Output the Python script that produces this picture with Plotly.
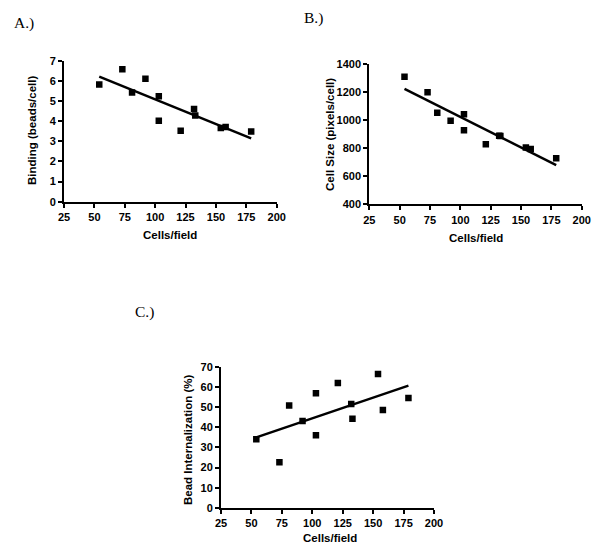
import plotly.graph_objects as go

# Data
cells_per_field = [54, 73, 81, 92, 103, 103, 121, 132, 133, 154, 158, 179]
binding = [5.82, 6.57, 5.42, 6.11, 5.24, 4.02, 3.52, 4.60, 4.28, 3.66, 3.71, 3.49]
cell_size = [1310, 1198, 1053, 996, 1041, 927, 828, 889, 887, 804, 794, 728]
internalization = [34.1, 22.7, 50.8, 43.1, 56.8, 36.1, 61.9, 51.5, 44.2, 66.4, 48.5, 54.5]

fit_x = [54, 179]
fit_binding = [6.21, 3.14]
fit_cell_size = [1222, 680]
fit_internalization = [35.0, 60.6]

x_ticks = [25, 50, 75, 100, 125, 150, 175, 200]

# page body has an 8px margin; size the figure to fill the rest of the window
OFF = 8
W, H = 600 - OFF, 558 - OFF

def px(x):
    return (x - OFF) / W

def py(y):
    return 1 - (y - OFF) / H

fig = go.Figure()

panels = [
    ("x", "y", binding, fit_binding, [0, 7], 1, (64, 276.7), (60.7, 201.7)),
    ("x2", "y2", cell_size, fit_cell_size, [400, 1400], 200, (369.3, 581.7), (64, 204.3)),
    ("x3", "y3", internalization, fit_internalization, [0, 70], 10, (221, 434), (366.7, 508)),
]

tickfont = dict(family="Liberation Sans, Arial", size=11, color="black", weight="bold")

for i, (xa, ya, yv, fit, yr, dt, xd, yd) in enumerate(panels):
    fig.add_trace(go.Scatter(
        x=cells_per_field, y=yv, mode="markers", xaxis=xa, yaxis=ya,
        marker=dict(symbol="square", size=6.5, color="black"), showlegend=False,
    ))
    fig.add_trace(go.Scatter(
        x=fit_x, y=fit, mode="lines", xaxis=xa, yaxis=ya,
        line=dict(color="black", width=2.5), showlegend=False,
    ))
    sfx = "" if i == 0 else str(i + 1)
    axis_common = dict(
        showline=True, linecolor="black", linewidth=2, mirror=False,
        ticks="outside", ticklen=4, tickwidth=2, tickcolor="black",
        showgrid=False, zeroline=False, tickfont=tickfont, automargin=False,
    )
    fig.layout["xaxis" + sfx] = dict(
        axis_common, domain=[px(xd[0]), px(xd[1])], range=[25, 200],
        tickvals=x_ticks, anchor=ya,
    )
    fig.layout["yaxis" + sfx] = dict(
        axis_common, domain=[py(yd[1]), py(yd[0])], range=yr,
        dtick=dt, tick0=yr[0], anchor=xa,
    )

title_font = dict(family="Liberation Sans, Arial", size=11.5, color="black", weight="bold")
label_font = dict(family="Liberation Serif, Times New Roman", size=15.5, color="black")

annotations = [
    dict(text="Cells/field", x=px(170.3), y=py(235), font=title_font),
    dict(text="Binding (beads/cell)", x=px(32), y=py(131), textangle=-90, font=title_font),
    dict(text="Cells/field", x=px(475.5), y=py(238), font=title_font),
    dict(text="Cell Size (pixels/cell)", x=px(330), y=py(135), textangle=-90, font=title_font),
    dict(text="Cells/field", x=px(329.5), y=py(538), font=title_font),
    dict(text="Bead Internalization (%)", x=px(188), y=py(440), textangle=-90, font=title_font),
    dict(text="A.)", x=px(12), y=py(23), xanchor="left", font=label_font),
    dict(text="B.)", x=px(302), y=py(18), xanchor="left", font=label_font),
    dict(text="C.)", x=px(133), y=py(312), xanchor="left", font=label_font),
]
for a in annotations:
    a.setdefault("xanchor", "center")
    a.update(xref="paper", yref="paper", yanchor="middle", showarrow=False)

fig.update_layout(
    width=W, height=H, margin=dict(l=0, r=0, t=0, b=0),
    paper_bgcolor="white", plot_bgcolor="white",
    annotations=annotations,
)

fig.write_html("out.html")
